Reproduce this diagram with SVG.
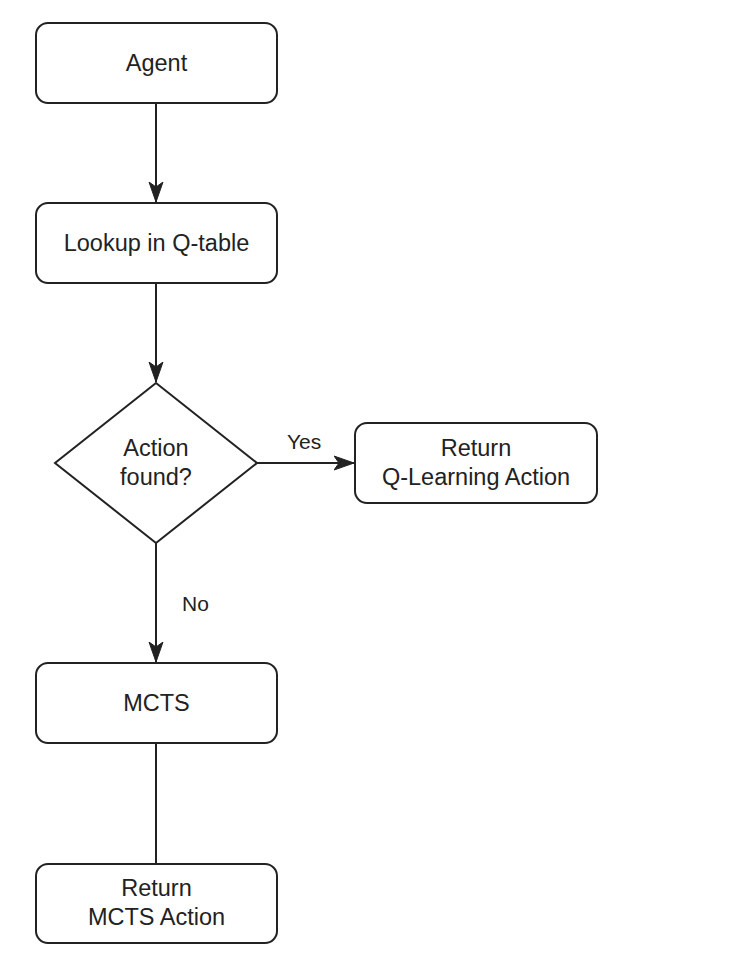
<svg xmlns="http://www.w3.org/2000/svg" width="732" height="966" viewBox="0 0 732 966">
<style>
.box{fill:#ffffff;stroke:#222222;stroke-width:2}
.t{font-family:"Liberation Sans",Arial,sans-serif;font-size:23.5px;fill:#222222;text-anchor:middle}
.lbl{font-family:"Liberation Sans",Arial,sans-serif;font-size:21px;fill:#222222}
.edge{fill:none;stroke:#222222;stroke-width:2}
</style>
<defs>
<marker id="arr" markerUnits="userSpaceOnUse" markerWidth="22" markerHeight="16" refX="20" refY="8" orient="auto">
<path d="M20,8 L0,1 L5,8 L0,15 Z" fill="#222222" stroke="#222222" stroke-width="1"/>
</marker>
</defs>
<rect width="732" height="966" fill="#ffffff"/>
<g id="connectors">
<line class="edge" x1="156" y1="103" x2="156" y2="202" marker-end="url(#arr)"/>
<line class="edge" x1="156" y1="283" x2="156" y2="382" marker-end="url(#arr)"/>
<line class="edge" x1="257" y1="463" x2="354" y2="463" marker-end="url(#arr)"/>
<line class="edge" x1="156" y1="543" x2="156" y2="662" marker-end="url(#arr)"/>
<line class="edge" x1="156" y1="743" x2="156" y2="864"/>
<text class="lbl" x="287" y="449">Yes</text>
<text class="lbl" x="182" y="611">No</text>
</g>
<g id="agent">
<rect class="box" x="36" y="23" width="241" height="80" rx="12" ry="12"/>
<text class="t" x="156.5" y="71">Agent</text>
</g>
<g id="lookup">
<rect class="box" x="36" y="203" width="241" height="80" rx="12" ry="12"/>
<text class="t" x="156.5" y="251">Lookup in Q-table</text>
</g>
<g id="decision">
<polygon class="box" points="156,383 257,463 156,543 55,463"/>
<text class="t" x="156" y="456">Action</text>
<text class="t" x="156" y="485">found?</text>
</g>
<g id="return-q">
<rect class="box" x="355" y="423" width="242" height="80" rx="12" ry="12"/>
<text class="t" x="476" y="456">Return</text>
<text class="t" x="476" y="485">Q-Learning Action</text>
</g>
<g id="mcts">
<rect class="box" x="36" y="663" width="241" height="80" rx="12" ry="12"/>
<text class="t" x="156.5" y="711">MCTS</text>
</g>
<g id="return-mcts">
<rect class="box" x="36" y="864" width="241" height="79" rx="12" ry="12"/>
<text class="t" x="156.5" y="896">Return</text>
<text class="t" x="156.5" y="925">MCTS Action</text>
</g>
</svg>
